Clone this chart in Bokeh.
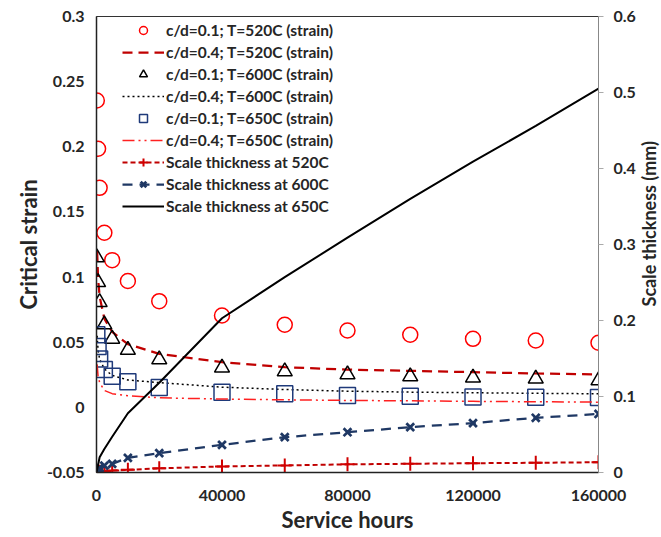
import math
from bokeh.plotting import figure
from bokeh.layouts import row
from bokeh.models import (Range1d, LinearAxis, Legend, LegendItem, NumeralTickFormatter,
                          FixedTicker)
from bokeh.core.properties import value
from bokeh.embed import file_html
from bokeh.resources import INLINE

# ---- data ----
hours = [100, 500, 1000, 2500, 5000, 10000, 20000, 40000, 60000, 80000, 100000, 120000, 140000, 160000]
curve_hours = [200, 500, 1000, 2500, 5000, 10000, 20000, 40000, 60000, 80000, 100000, 120000, 140000, 160000]

strain_520_cd01 = [0.2355, 0.1985, 0.1685, 0.134, 0.113, 0.097, 0.0815, 0.0705, 0.0634, 0.059, 0.0557, 0.0526, 0.0513, 0.0496]
strain_600_cd01 = [0.115, 0.096, 0.0807, 0.0636, 0.0526, 0.044, 0.0367, 0.0304, 0.0275, 0.0252, 0.0237, 0.0227, 0.022, 0.0206]
strain_650_cd01 = [0.0557, 0.0467, 0.0372, 0.029, 0.0238, 0.0196, 0.0152, 0.0116, 0.0104, 0.0091, 0.0085, 0.008, 0.0077, 0.0075]

strain_520_cd04 = [0.12, 0.099, 0.085, 0.068, 0.058, 0.0485, 0.041, 0.0347, 0.0308, 0.029, 0.028, 0.027, 0.026, 0.0253]
strain_600_cd04 = [0.055, 0.044, 0.037, 0.0295, 0.0245, 0.021, 0.019, 0.0155, 0.0137, 0.0124, 0.0117, 0.0112, 0.0108, 0.0104]
strain_650_cd04 = [0.033, 0.024, 0.019, 0.013, 0.0105, 0.009, 0.0073, 0.0064, 0.0058, 0.0053, 0.005, 0.0046, 0.0043, 0.004]

thick_520 = [0.0003, 0.0007, 0.001, 0.0016, 0.0026, 0.0035, 0.0055, 0.008, 0.0093, 0.0107, 0.0115, 0.0122, 0.0128, 0.0135]
thick_600 = [0.002, 0.004, 0.006, 0.009, 0.0114, 0.0193, 0.0254, 0.0364, 0.0465, 0.053, 0.0597, 0.065, 0.072, 0.077]

thick650_hours = [0, 1000, 2500, 5000, 10000, 20000, 40000, 60000, 80000, 100000, 120000, 140000, 160000]
thick_650 = [0, 0.02, 0.031, 0.047, 0.078, 0.118, 0.203, 0.257, 0.309, 0.36, 0.409, 0.456, 0.505]

x_ticks = [0, 40000, 80000, 120000, 160000]
left_ticks = [-0.05, 0, 0.05, 0.1, 0.15, 0.2, 0.25, 0.3]
right_ticks = [0, 0.1, 0.2, 0.3, 0.4, 0.5, 0.6]
right_title = "Scale thickness (mm)"

FONT = "Lato"

p = figure(width=638, height=537, output_backend="svg", toolbar_location=None,
           x_range=Range1d(0, 160000), y_range=Range1d(-0.05, 0.3),
           min_border_left=96, min_border_right=36, min_border_top=16, min_border_bottom=65)
p.extra_y_ranges = {"thick": Range1d(0, 0.6)}
p.xgrid.visible = False
p.ygrid.visible = False
p.outline_line_color = "#333333"
p.background_fill_color = "white"

def style_axis(ax, size="16px"):
    ax.major_label_text_font = FONT
    ax.major_label_text_font_style = "bold"
    ax.major_label_text_font_size = size
    ax.major_label_text_color = "#262626"
    ax.axis_label_text_font = FONT
    ax.axis_label_text_font_style = "bold"
    ax.axis_label_text_font_size = "22px"
    ax.axis_label_text_color = "#262626"
    ax.minor_tick_line_color = None

xa = p.xaxis[0]
style_axis(xa)
xa.ticker = FixedTicker(ticks=x_ticks)
xa.formatter = NumeralTickFormatter(format="0")
xa.major_tick_out = 0
xa.major_tick_in = 0
xa.axis_line_color = "#222222"
xa.axis_line_width = 1.5
xa.major_label_standoff = 17
xa.axis_label = "Service hours"
xa.axis_label_standoff = 2

ya = p.yaxis[0]
style_axis(ya)
ya.ticker = FixedTicker(ticks=left_ticks)
ya.formatter = NumeralTickFormatter(format="0.[00]")
ya.major_tick_out = 0
ya.major_tick_in = 0
ya.axis_line_color = "#222222"
ya.axis_line_width = 1.5
ya.major_label_standoff = 12
ya.axis_label = "Critical strain"
ya.axis_label_standoff = 2

ra = LinearAxis(y_range_name="thick", ticker=FixedTicker(ticks=right_ticks),
                formatter=NumeralTickFormatter(format="0.[0]"))
style_axis(ra)
ra.axis_line_color = "#888888"
ra.major_tick_line_color = "#aaaaaa"
ra.major_tick_out = 5
ra.major_tick_in = 0
ra.major_label_standoff = 10
p.add_layout(ra, "right")

# ---- glyphs ----
r_circ = p.scatter(hours, strain_520_cd01, marker="circle", size=15, fill_color=None,
                   line_color="#FF0000", line_width=1.5)
r_l520 = p.line(curve_hours, strain_520_cd04, line_color="#C00000", line_width=2.25, line_dash="10 6")
r_tri = p.scatter(hours, strain_600_cd01, marker="triangle", size=15, fill_color=None,
                  line_color="black", line_width=1.5)
r_l600 = p.line(curve_hours, strain_600_cd04, line_color="black", line_width=1.5, line_dash="2 3")
r_sq = p.scatter(hours, strain_650_cd01, marker="square", size=16, fill_color=None,
                 line_color="#1F3A7A", line_width=1.5)
r_l650 = p.line(curve_hours, strain_650_cd04, line_color="#FF2020", line_width=1.5, line_dash="12 4 2 4 2 4")

r_t520l = p.line(hours, thick_520, y_range_name="thick", line_color="#C00000", line_width=2, line_dash="5 3")
r_t520m = p.scatter(hours, thick_520, y_range_name="thick", marker="cross", size=14,
                    line_color="#D00000", line_width=2)
r_t600l = p.line(hours, thick_600, y_range_name="thick", line_color="#1F3864", line_width=2.25, line_dash="10 7")
r_t600m = p.scatter(hours, thick_600, y_range_name="thick", marker="x", size=11,
                    line_color="#1F3864", line_width=2.75)
r_t650 = p.line(thick650_hours, thick_650, y_range_name="thick", line_color="black", line_width=2)

legend = Legend(items=[
    LegendItem(label="c/d=0.1; T=520C (strain)", renderers=[r_circ]),
    LegendItem(label="c/d=0.4; T=520C (strain)", renderers=[r_l520]),
    LegendItem(label="c/d=0.1; T=600C (strain)", renderers=[r_tri]),
    LegendItem(label="c/d=0.4; T=600C (strain)", renderers=[r_l600]),
    LegendItem(label="c/d=0.1; T=650C (strain)", renderers=[r_sq]),
    LegendItem(label="c/d=0.4; T=650C (strain)", renderers=[r_l650]),
    LegendItem(label="Scale thickness at 520C", renderers=[r_t520l, r_t520m]),
    LegendItem(label="Scale thickness at 600C", renderers=[r_t600l, r_t600m]),
    LegendItem(label="Scale thickness at 650C", renderers=[r_t650]),
], location=(26, 256))
legend.glyph_width = 42
legend.glyph_height = 20
legend.label_height = 20
legend.spacing = 2
legend.padding = 1
legend.margin = 0
legend.label_standoff = 2
legend.background_fill_alpha = 0
legend.border_line_color = None
legend.label_text_font = FONT
legend.label_text_font_style = "bold"
legend.label_text_font_size = "15.5px"
legend.label_text_color = "#262626"
p.add_layout(legend)

# ---- narrow strip holding the right-hand axis title ----
t = figure(width=23, height=537, output_backend="svg", toolbar_location=None,
           x_range=Range1d(0, 23), y_range=Range1d(0, 537),
           x_axis_location=None, y_axis_location=None, min_border=0)
t.xgrid.visible = False
t.ygrid.visible = False
t.outline_line_color = None
t.text(x=[10.5], y=[293], text=[right_title], angle=math.pi / 2,
       text_align="center", text_baseline="middle",
       text_font=value(FONT), text_font_style="bold", text_font_size="18px",
       text_color="#262626")

layout = row(p, t, spacing=0)
open("out.html", "w").write(file_html(layout, INLINE))
